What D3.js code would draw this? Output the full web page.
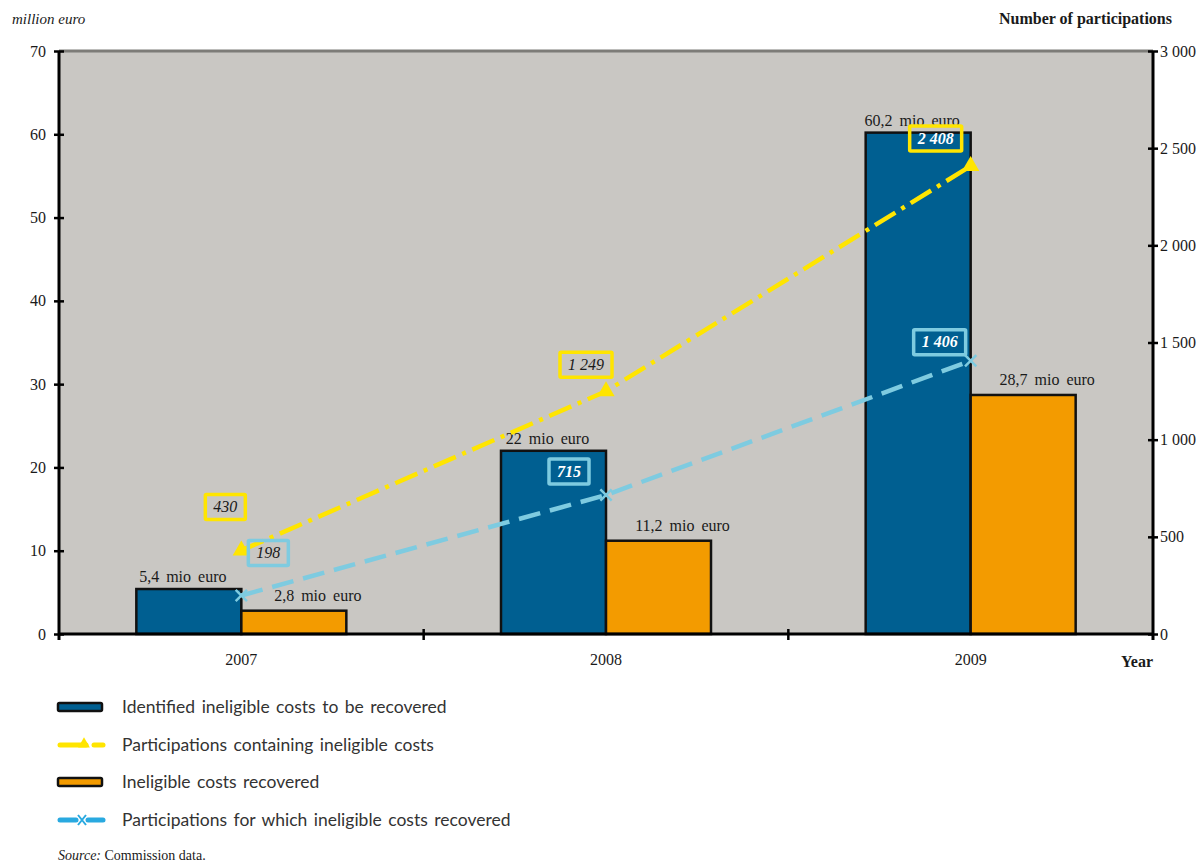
<!DOCTYPE html>
<html><head><meta charset="utf-8">
<script src="https://cdn.jsdelivr.net/npm/d3@7"></script>
<style>
body{margin:0;background:#fff;}
text{font-family:"Liberation Serif","DejaVu Serif",serif;}
</style></head>
<body><svg id="c" width="1204" height="864"></svg>
<script>
const years = ["2007","2008","2009"];
const identified = [5.4, 22, 60.2];
const recovered = [2.8, 11.2, 28.7];
const identifiedLabels = ["5,4 mio euro","22 mio euro","60,2 mio euro"];
const recoveredLabels = ["2,8 mio euro","11,2 mio euro","28,7 mio euro"];
const partsIneligible = [430, 1249, 2408];
const partsRecovered = [198, 715, 1406];
const partsIneligibleLabels = ["430","1 249","2 408"];
const partsRecoveredLabels = ["198","715","1 406"];
const leftTicks = [0,10,20,30,40,50,60,70];
const rightTicks = [0,500,1000,1500,2000,2500,3000];
const rightTickLabels = ["0","500","1 000","1 500","2 000","2 500","3 000"];
const legendLabels = ["Identified ineligible costs to be recovered","Participations containing ineligible costs","Ineligible costs recovered","Participations for which ineligible costs recovered"];

const C = {bg:"#c9c7c3", blue:"#005f91", orange:"#f39b00", yellow:"#ffe500", lblue:"#7ecbe0", text:"#1a1a1a"};
const L = 59, R = 1153, T = 51, B = 634;
const svg = d3.select("#c");
const x = d3.scaleBand().domain(years).range([L, R]);
const yL = d3.scaleLinear().domain([0,70]).range([B, T]);
const yR = d3.scaleLinear().domain([0,3000]).range([B, T]);
const bw = 105;

svg.append("rect").attr("x",L).attr("y",T).attr("width",R-L).attr("height",B-T).attr("fill",C.bg);
svg.append("line").attr("x1",L).attr("x2",R).attr("y1",T).attr("y2",T).attr("stroke","#7d7c78").attr("stroke-width",3);

// bars
const cx = d => x(d) + x.bandwidth()/2;
svg.selectAll(".b1").data(years).join("rect")
  .attr("x",d=>cx(d)-bw).attr("y",(d,i)=>yL(identified[i])).attr("width",bw).attr("height",(d,i)=>B-yL(identified[i]))
  .attr("fill",C.blue).attr("stroke","#111").attr("stroke-width",2.5);
svg.selectAll(".b2").data(years).join("rect")
  .attr("x",d=>cx(d)).attr("y",(d,i)=>yL(recovered[i])).attr("width",bw).attr("height",(d,i)=>B-yL(recovered[i]))
  .attr("fill",C.orange).attr("stroke","#111").attr("stroke-width",2.5);

svg.selectAll(".l1").data(years).join("text")
  .attr("x",d=>cx(d)-bw/2-6).attr("y",(d,i)=>yL(identified[i])-7).attr("text-anchor","middle")
  .attr("font-size",16).attr("word-spacing",3).attr("fill",C.text).text((d,i)=>identifiedLabels[i]);
svg.selectAll(".l2").data(years).join("text")
  .attr("x",d=>cx(d)+bw/2+24).attr("y",(d,i)=>yL(recovered[i])-10).attr("text-anchor","middle")
  .attr("font-size",16).attr("word-spacing",3).attr("fill",C.text).text((d,i)=>recoveredLabels[i]);

// axes
const gl = svg.append("g").attr("transform",`translate(${L},0)`)
  .call(d3.axisLeft(yL).tickValues(leftTicks).tickSize(5).tickFormat(d3.format("d")));
gl.select(".domain").attr("stroke","#000").attr("stroke-width",3).attr("d",`M0,${T}V${B+6}`);
gl.selectAll(".tick line").attr("stroke","#000").attr("stroke-width",2.5).attr("x1",5);
gl.selectAll(".tick text").attr("font-size",16).attr("fill",C.text).attr("x",-13).style("font-family","Liberation Serif");

const gr = svg.append("g").attr("transform",`translate(${R},0)`)
  .call(d3.axisRight(yR).tickValues(rightTicks).tickSize(5).tickFormat((d,i)=>rightTickLabels[i]));
gr.select(".domain").attr("stroke","#000").attr("stroke-width",3).attr("d",`M0,${T}V${B+6}`);
gr.selectAll(".tick line").attr("stroke","#000").attr("stroke-width",2.5).attr("x1",-5);
gr.selectAll(".tick text").attr("font-size",16).attr("fill",C.text).attr("x",7).style("font-family","Liberation Serif");

const gb = svg.append("g").attr("transform",`translate(0,${B})`)
  .call(d3.axisBottom(x).tickSize(0).tickPadding(20));
gb.select(".domain").attr("stroke","#000").attr("stroke-width",3).attr("d",`M${L},0H${R}`);
gb.selectAll(".tick text").attr("font-size",16).attr("fill",C.text).style("font-family","Liberation Serif");
svg.selectAll(".bt").data(years.slice(1)).join("line")
  .attr("x1",d=>x(d)).attr("x2",d=>x(d)).attr("y1",B-5).attr("y2",B+6).attr("stroke","#000").attr("stroke-width",2.5);

svg.append("text").attr("x",12).attr("y",24).attr("font-size",15).attr("font-style","italic").attr("fill",C.text).text("million euro");
svg.append("text").attr("x",1172).attr("y",24).attr("font-size",16).attr("font-weight","bold").attr("text-anchor","end").attr("fill",C.text).text("Number of participations");
svg.append("text").attr("x",1153).attr("y",667).attr("font-size",16).attr("font-weight","bold").attr("text-anchor","end").attr("fill",C.text).text("Year");

// lines
const line = d3.line().x(d=>d[0]).y(d=>d[1]);
const pY = years.map((d,i)=>[cx(d), yR(partsIneligible[i])]);
const pB = years.map((d,i)=>[cx(d), yR(partsRecovered[i])]);
svg.append("path").attr("d",line(pB)).attr("fill","none").attr("stroke",C.lblue).attr("stroke-width",4.5).attr("stroke-dasharray","22,10");
svg.append("path").attr("d",line(pY)).attr("fill","none").attr("stroke",C.yellow).attr("stroke-width",4.5).attr("stroke-dasharray","24,7,4,7");
svg.selectAll(".my").data(pY).join("path")
  .attr("transform",d=>`translate(${d[0]},${d[1]})`).attr("d",d3.symbol(d3.symbolTriangle,130)).attr("fill",C.yellow);
svg.selectAll(".mb").data(pB).join("path")
  .attr("transform",d=>`translate(${d[0]},${d[1]}) rotate(45)`)
  .attr("fill","none").attr("stroke",C.lblue).attr("stroke-width",2.5)
  .attr("d","M-8,0H8M0,-8V8");

// label boxes
const offY = [[-16,-44],[-20,-27],[-35,-28]];
const offB = [[27,-43],[-37,-24],[-31,-19]];
function onBlue(px,py){
  return years.some((d,i)=>px>cx(d)-bw && px<cx(d) && py>yL(identified[i]));
}
function boxes(pts, offs, labels, color){
  pts.forEach((p,i)=>{
    const bx = p[0]+offs[i][0], by = p[1]+offs[i][1];
    const g = svg.append("g");
    const t = g.append("text").attr("x",bx).attr("y",by+5.5).attr("text-anchor","middle")
      .attr("font-size",16).attr("font-style","italic").text(labels[i]);
    const white = onBlue(bx,by);
    t.attr("fill", white ? "#fff" : C.text).attr("font-weight", white ? "bold":"normal");
    const w = t.node().getComputedTextLength();
    g.insert("rect","text").attr("x",bx-w/2-8).attr("y",by-12).attr("width",w+16).attr("height",25)
      .attr("fill","none").attr("stroke",color).attr("stroke-width",3.5).attr("rx",1);
  });
}
boxes(pY, offY, partsIneligibleLabels, C.yellow);
boxes(pB, offB, partsRecoveredLabels, C.lblue);

// legend
const lg = svg.append("g");
const ly = [707,745,782,820];
legendLabels.forEach((lab,i)=>{
  const y = ly[i];
  if(i===0||i===2){
    lg.append("rect").attr("x",58).attr("y",y-4).attr("width",44).attr("height",8)
      .attr("fill", i===0?C.blue:C.orange).attr("stroke","#111").attr("stroke-width",2.5).attr("rx",1.5);
  } else if(i===1){
    lg.append("line").attr("x1",60).attr("x2",86).attr("y1",y).attr("y2",y).attr("stroke",C.yellow).attr("stroke-width",5).attr("stroke-linecap","round");
    lg.append("line").attr("x1",94).attr("x2",103).attr("y1",y).attr("y2",y).attr("stroke",C.yellow).attr("stroke-width",5).attr("stroke-linecap","round");
    lg.append("path").attr("transform",`translate(84,${y-1})`).attr("d",d3.symbol(d3.symbolTriangle,60)).attr("fill",C.yellow);
  } else {
    lg.append("line").attr("x1",60).attr("x2",76).attr("y1",y).attr("y2",y).attr("stroke","#29a9e0").attr("stroke-width",5).attr("stroke-linecap","round");
    lg.append("line").attr("x1",88).attr("x2",103).attr("y1",y).attr("y2",y).attr("stroke","#29a9e0").attr("stroke-width",5).attr("stroke-linecap","round");
    lg.append("path").attr("transform",`translate(82,${y})`).attr("d","M-4,-5L4,5M-4,5L4,-5").attr("stroke","#29a9e0").attr("stroke-width",2);
  }
  lg.append("text").attr("x",122).attr("y",y+6).attr("font-size",17.5).attr("fill","#333")
    .attr("word-spacing",2).style("font-family","Lato,'Noto Sans',sans-serif").text(lab);
});
const src = svg.append("text").attr("x",58).attr("y",860).attr("font-size",14).attr("fill",C.text);
src.append("tspan").attr("font-style","italic").text("Source: ");
src.append("tspan").text("Commission data.");
</script></body></html>
